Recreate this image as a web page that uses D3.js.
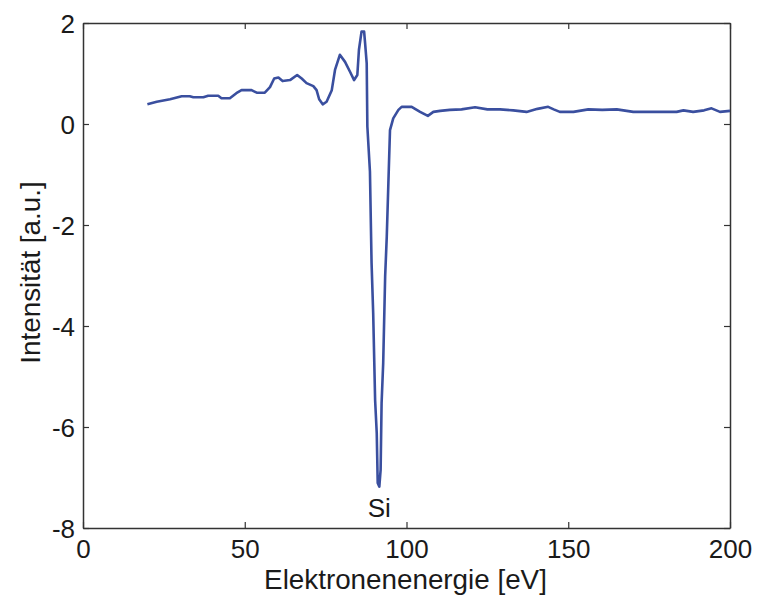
<!DOCTYPE html>
<html>
<head>
<meta charset="utf-8">
<script src="https://cdn.jsdelivr.net/npm/d3@7"></script>
<style>
  html, body { margin: 0; padding: 0; background: #fff; }
  svg { display: block; font-family: "Liberation Sans", Arial, sans-serif; }
</style>
</head>
<body>
<svg id="chart" width="759" height="600"></svg>
<script>
// Auger spectrum: electron energy (eV) vs. derivative intensity (a.u.)
const energy = [
  19.9, 22.8, 26.9, 30.5, 33.0, 34.1, 37.2, 38.7, 41.8, 42.8, 45.4, 47.4, 49.0, 52.1,
  53.7, 56.2, 57.8, 59.1, 60.4, 61.7, 64.0, 66.2, 67.6, 69.1, 71.2, 72.2, 73.0, 74.1,
  75.3, 76.9, 77.9, 79.4, 81.0, 82.5, 83.8, 84.8, 85.3, 86.1, 86.9, 87.2, 87.7, 87.9,
  88.7, 89.2, 89.7, 90.3, 90.8, 91.1, 91.6, 92.0, 92.3, 92.8, 93.4, 93.9, 94.4, 94.9,
  95.9, 97.5, 98.5, 101.6, 104.2, 106.6, 108.3, 110.4, 113.4, 117.0, 121.2, 125.0, 128.9,
  133.0, 137.1, 140.5, 143.8, 145.5, 147.4, 151.6, 156.2, 160.5, 165.0, 170.1, 175.3,
  180.0, 183.5, 185.6, 188.6, 192.0, 194.3, 196.9, 200.0
];
const intensity = [
  0.39, 0.44, 0.49, 0.55, 0.55, 0.53, 0.53, 0.56, 0.56, 0.51, 0.51, 0.61, 0.67, 0.67,
  0.62, 0.62, 0.73, 0.90, 0.92, 0.85, 0.87, 0.97, 0.90, 0.81, 0.75, 0.67, 0.49, 0.39,
  0.44, 0.67, 1.07, 1.37, 1.23, 1.04, 0.87, 0.97, 1.47, 1.83, 1.83, 1.60, 1.20, -0.05,
  -0.94, -2.75, -3.74, -5.47, -6.12, -7.11, -7.18, -6.85, -5.53, -4.73, -3.02, -2.23, -1.17, -0.12,
  0.11, 0.28, 0.34, 0.34, 0.24, 0.16, 0.24, 0.26, 0.28, 0.29, 0.33, 0.29, 0.29,
  0.27, 0.24, 0.30, 0.34, 0.29, 0.24, 0.24, 0.29, 0.28, 0.29, 0.24, 0.24,
  0.24, 0.24, 0.27, 0.24, 0.27, 0.31, 0.24, 0.26
];
const xTicks = [0, 50, 100, 150, 200];
const yTicks = [2, 0, -2, -4, -6, -8];
const peakLabel = { text: "Si", energy: 91.6, intensity: -7.18 };

const svg = d3.select("#chart");
const plotLeft = 83, plotRight = 730, plotTop = 23, plotBottom = 528;
const axisColor = "#333";
const textColor = "#1a1a1a";
const tickLen = 6;
const fmt = d => String(d);

const x = d3.scaleLinear().domain([0, 200]).range([plotLeft, plotRight]);
const y = d3.scaleLinear().domain([-8, 2]).range([plotBottom, plotTop]);

// Axes (inward ticks, labels on bottom/left, box on top/right)
const gx = svg.append("g").attr("transform", `translate(0,${plotBottom})`)
  .call(d3.axisBottom(x).tickValues(xTicks).tickFormat(fmt).tickSize(-tickLen).tickPadding(11).tickSizeOuter(0));
const gy = svg.append("g").attr("transform", `translate(${plotLeft},0)`)
  .call(d3.axisLeft(y).tickValues(yTicks).tickFormat(fmt).tickSize(-tickLen).tickPadding(8).tickSizeOuter(0));
const gxt = svg.append("g").attr("transform", `translate(0,${plotTop})`)
  .call(d3.axisTop(x).tickValues(xTicks).tickSize(-tickLen).tickFormat("").tickSizeOuter(0));
const gyr = svg.append("g").attr("transform", `translate(${plotRight},0)`)
  .call(d3.axisRight(y).tickValues(yTicks).tickSize(-tickLen).tickFormat("").tickSizeOuter(0));

[gx, gy, gxt, gyr].forEach(g => {
  g.select(".domain").attr("stroke", axisColor).attr("stroke-width", 1.5);
  g.selectAll(".tick line").attr("stroke", axisColor).attr("stroke-width", 1.2);
  g.selectAll(".tick text").attr("fill", textColor).attr("font-size", 26)
    .attr("font-family", "Liberation Sans, Arial, sans-serif");
});
gy.selectAll(".tick text").attr("dy", "0.36em");
gx.selectAll(".tick text").attr("dy", "0.72em");

// Spectrum line
const pts = energy.map((e, i) => [e, intensity[i]]);
svg.append("path")
  .datum(pts)
  .attr("fill", "none")
  .attr("stroke", "#3a4f9f")
  .attr("stroke-width", 2.6)
  .attr("stroke-linejoin", "round")
  .attr("d", d3.line().x(d => x(d[0])).y(d => y(d[1])));

// Peak annotation
svg.append("text")
  .attr("x", x(peakLabel.energy))
  .attr("y", y(peakLabel.intensity) + 30)
  .attr("text-anchor", "middle")
  .attr("font-size", 26)
  .attr("fill", textColor)
  .text(peakLabel.text);

// Axis titles
svg.append("text")
  .attr("x", (plotLeft + plotRight) / 2 - 1)
  .attr("y", 589)
  .attr("text-anchor", "middle")
  .attr("font-size", 27.8)
  .attr("fill", textColor)
  .text("Elektronenenergie [eV]");

svg.append("text")
  .attr("transform", `translate(40,${(182 + 363) / 2}) rotate(-90)`)
  .attr("text-anchor", "middle")
  .attr("font-size", 27.8)
  .attr("fill", textColor)
  .text("Intensität [a.u.]");
</script>
</body>
</html>
